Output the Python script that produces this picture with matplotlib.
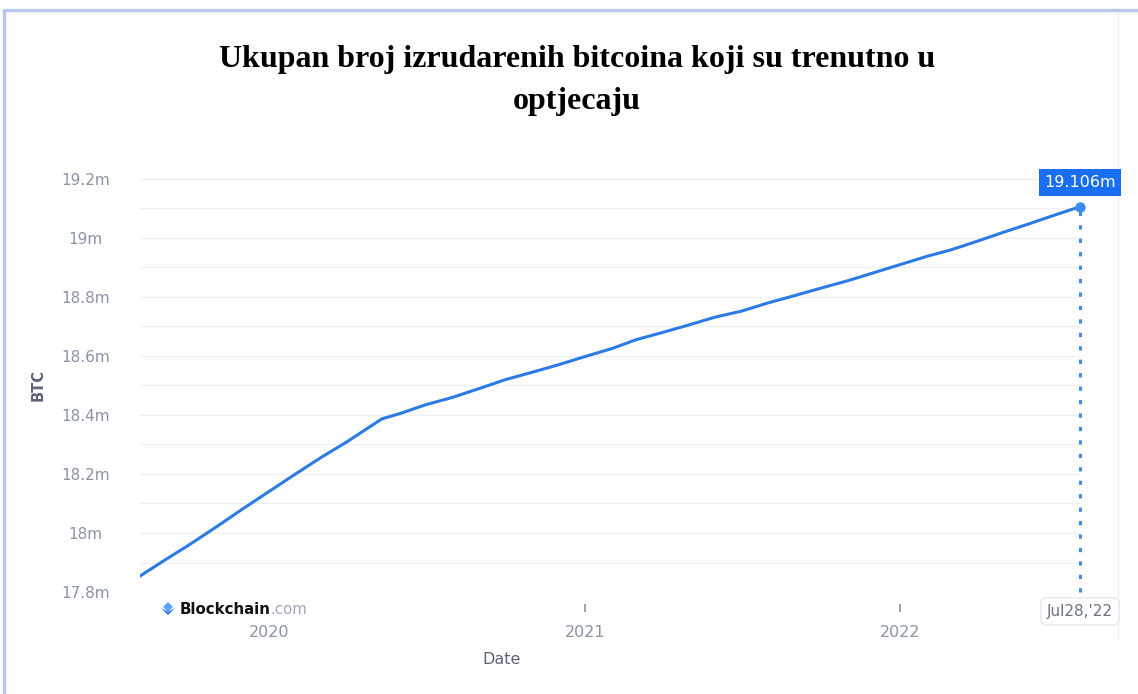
import numpy as np
import pandas as pd
import matplotlib
matplotlib.use('Agg')
import matplotlib.pyplot as plt
from matplotlib.patches import Rectangle, Polygon
from matplotlib.lines import Line2D

# ukupna kolicina BTC u opticaju (milijuni), procjena sa slike
dates = ['2019-08-05', '2019-09-01', '2019-10-01', '2019-11-01', '2019-12-01',
         '2020-01-01', '2020-02-01', '2020-03-01', '2020-04-01', '2020-05-11',
         '2020-06-01', '2020-07-01', '2020-08-01', '2020-09-01', '2020-10-01',
         '2020-11-01', '2020-12-01', '2021-01-01', '2021-02-01', '2021-03-01',
         '2021-04-01', '2021-05-01', '2021-06-01', '2021-07-01', '2021-08-01',
         '2021-09-01', '2021-10-01', '2021-11-01', '2021-12-01', '2022-01-01',
         '2022-02-01', '2022-03-01', '2022-04-01', '2022-05-01', '2022-06-01',
         '2022-07-01', '2022-07-28']
btc = [17.854, 17.905, 17.960, 18.020, 18.080,
       18.140, 18.200, 18.255, 18.310, 18.387,
       18.405, 18.435, 18.460, 18.490, 18.520,
       18.545, 18.570, 18.598, 18.625, 18.655,
       18.680, 18.705, 18.732, 18.752, 18.780,
       18.805, 18.830, 18.855, 18.882, 18.910,
       18.938, 18.960, 18.990, 19.020, 19.050,
       19.080, 19.106]
yticks = [17.8, 18.0, 18.2, 18.4, 18.6, 18.8, 19.0, 19.2]
ylabels = ['17.8m', '18m', '18.2m', '18.4m', '18.6m', '18.8m', '19m', '19.2m']
years = ['2020-01-01', '2021-01-01', '2022-01-01']
yearlabels = ['2020', '2021', '2022']

x = pd.to_datetime(dates)
xt = pd.to_datetime(years)

W, H = 1138, 694
fig = plt.figure(figsize=(W / 100, H / 100), dpi=100)
ax = fig.add_axes([140 / W, (H - 592) / H, 940 / W, 413 / H])
ax.set_zorder(3)

blue = '#2c7be5'
gray = '#8a93a6'

ax.plot(x, btc, color=blue, lw=2.2, zorder=3)
ax.set_xlim(x[0], x[-1])
ax.set_ylim(17.8, 19.2)

# grid svakih 0.1m
for g in np.arange(17.8, 19.21, 0.1):
    ax.axhline(g, color='#eef0f4', lw=1, zorder=1)

ax.set_yticks(yticks)
ax.set_yticklabels(ylabels)
ax.tick_params(axis='y', length=0, pad=39, labelsize=11, labelcolor=gray)
for lab in ax.get_yticklabels():
    lab.set_horizontalalignment('center')
ax.set_xticks(xt)
ax.set_xticklabels(yearlabels)
ax.tick_params(axis='x', length=0, pad=24, labelsize=11.5, labelcolor=gray)
for s in ax.spines.values():
    s.set_visible(False)

# male crtice na x osi
trans = ax.get_xaxis_transform()
ax.vlines(xt, -0.03, -0.048, transform=trans, color=gray, lw=1.2, clip_on=False)

fig.text(38 / W, 1 - 385 / H, 'BTC', rotation=90, ha='center', va='center',
         fontsize=10.5, color='#5b6275', fontweight='bold')
fig.text(502 / W, 1 - 660 / H, 'Date', ha='center', va='center',
         fontsize=11.5, color='#5b6275')

# zadnja tocka
ax.plot([x[-1], x[-1]], [17.8, btc[-1]], color='#3d8bf0', lw=2.2, dashes=(1.4, 3.0),
        zorder=4, clip_on=False)
ax.plot(x[-1], btc[-1], 'o', color='#3d8bf0', ms=6.5, clip_on=False, zorder=5)
ax.annotate('19.106m', (x[-1], btc[-1]), xytext=(0, 17.5), textcoords='offset points',
            ha='center', va='center', color='white', fontsize=11.5, zorder=6,
            bbox=dict(boxstyle='square,pad=0.35', fc='#1a6ff0', ec='none'))
ax.annotate("Jul28,'22", (x[-1], 17.8), xytext=(0, -14), textcoords='offset points',
            ha='center', va='center', color='#6b7280', fontsize=11, zorder=6,
            bbox=dict(boxstyle='round,pad=0.4', fc='white', ec='#e6e8ec', lw=1))

# naslov
fig.text(577 / W, 1 - 60 / H, 'Ukupan broj izrudarenih bitcoina koji su trenutno u',
         ha='center', va='center', fontsize=23, fontweight='bold', family='Liberation Serif')
fig.text(577 / W, 1 - 101 / H, 'optjecaju',
         ha='center', va='center', fontsize=23, fontweight='bold', family='Liberation Serif')

# logo
fig.patches.append(Rectangle((150 / W, 1 - 625 / H), 150 / W, 26 / H, transform=fig.transFigure,
                             fc='white', ec='none', zorder=5))
t1 = fig.text(180 / W, 1 - 610 / H, 'Blockchain', ha='left', va='center', fontsize=10.8,
              fontweight='bold', color='#121212', zorder=6)
fig.canvas.draw()
bb = t1.get_window_extent()
fig.text(bb.x1 / W, 1 - 610 / H, '.com', ha='left', va='center', fontsize=10.8,
         color='#a0a7b8', zorder=6)
cx, cy = 168, 609
fig.patches.append(Polygon([((cx) / W, 1 - (cy - 7) / H), ((cx + 5) / W, 1 - (cy - 2) / H),
                            ((cx) / W, 1 - (cy + 3) / H), ((cx - 5) / W, 1 - (cy - 2) / H)],
                           closed=True, transform=fig.transFigure, fc='#5aa2f5', ec='none', zorder=6))
fig.patches.append(Polygon([((cx - 7) / W, 1 - (cy - 1) / H), ((cx) / W, 1 - (cy + 6) / H),
                            ((cx + 7) / W, 1 - (cy - 1) / H), ((cx) / W, 1 - (cy + 3) / H)],
                           closed=True, transform=fig.transFigure, fc='#1f6fe0', ec='none', zorder=6))

# okvir
fig.lines.append(Line2D([4 / W, 4 / W, 1], [0, 1 - 10 / H, 1 - 10 / H], transform=fig.transFigure,
                        color='#b7c9e8', lw=2.5, zorder=1))
fig.lines.append(Line2D([1118 / W, 1118 / W], [1 - 640 / H, 1 - 12 / H], transform=fig.transFigure,
                        color='#eceef2', lw=1, zorder=1))

fig.savefig('out.png', dpi=100)
